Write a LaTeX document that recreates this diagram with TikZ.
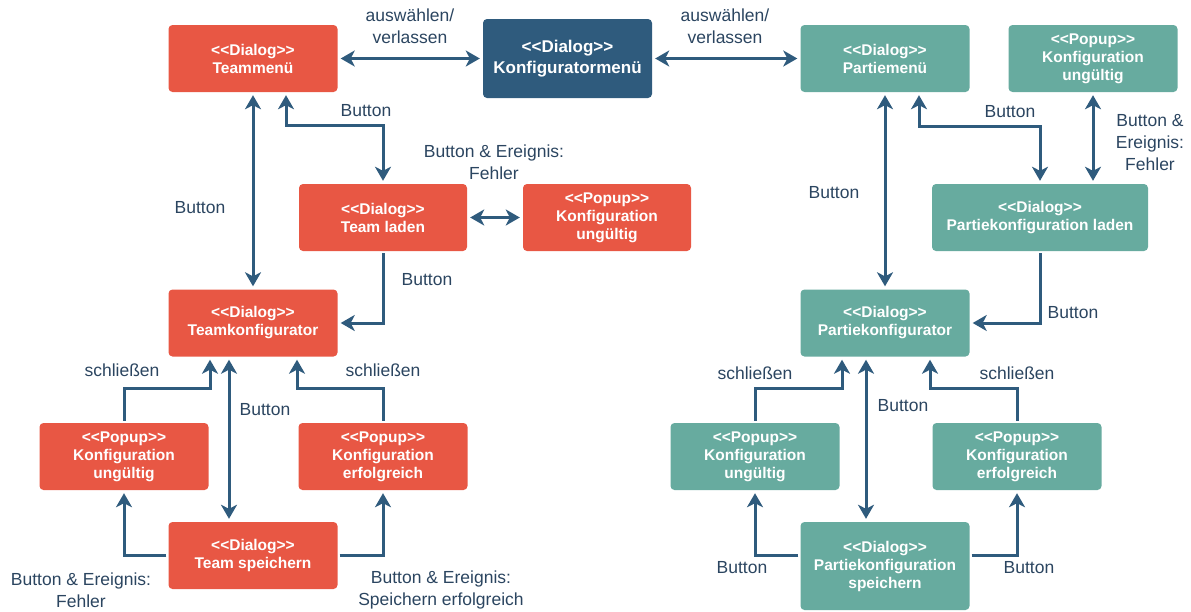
\documentclass[tikz,border=0pt]{standalone}
\usepackage{fontspec}
\setmainfont[Ligatures=TeXOff]{Liberation Sans}
\usetikzlibrary{arrows.meta,calc}
\definecolor{redbox}{HTML}{E85744}
\definecolor{tealbox}{HTML}{67AB9F}
\definecolor{navy}{HTML}{2F5B7D}
\definecolor{labeltxt}{HTML}{2B4560}
\tikzset{
  box/.style={rectangle, rounded corners=4pt, draw=none, minimum width=169pt, minimum height=67pt,
    inner sep=0pt, align=center, text=white, font=\fontsize{15.5}{18}\selectfont\bfseries},
  redb/.style={box, fill=redbox},
  tealb/.style={box, fill=tealbox},
  navyb/.style={box, fill=navy, minimum height=79pt, font=\fontsize{17}{21}\selectfont\bfseries},
  lbl/.style={align=center, text=labeltxt, inner sep=0pt, font=\fontsize{17.5}{22}\selectfont},
  arr/.style={draw=navy, line width=3pt, -{Stealth[length=14pt,width=16pt,inset=4pt]}, shorten >=3pt, shorten <=2pt},
  dbl/.style={draw=navy, line width=3pt, {Stealth[length=14pt,width=16pt,inset=4pt]}-{Stealth[length=14pt,width=16pt,inset=4pt]}, shorten >=3pt, shorten <=3pt},
}
\begin{document}
\begin{tikzpicture}[x=1pt,y=-1pt]
\useasboundingbox (0,0) rectangle (1191,611);
% left nodes
\node[redb] (tm) at (253,58.5) {<<Dialog>>\\Teammenü};
\node[navyb] (km) at (567.5,58.5) {<<Dialog>>\\Konfiguratormenü};
\node[redb, minimum width=168pt] (tl) at (383,217.5) {<<Dialog>>\\Team laden};
\node[redb, minimum width=168pt] (pu1) at (607,217.5) {<<Popup>>\\Konfiguration\\ungültig};
\node[redb] (tk) at (253,323) {<<Dialog>>\\Teamkonfigurator};
\node[redb] (pu2) at (124,456.5) {<<Popup>>\\Konfiguration\\ungültig};
\node[redb] (pe) at (383,456.5) {<<Popup>>\\Konfiguration\\erfolgreich};
\node[redb] (ts) at (253,555.5) {<<Dialog>>\\Team speichern};
% right nodes
\node[tealb] (pm) at (885,58.5) {<<Dialog>>\\Partiemenü};
\node[tealb] (pu3) at (1093,58.5) {<<Popup>>\\Konfiguration\\ungültig};
\node[tealb, minimum width=216pt] (pl) at (1040,217.5) {<<Dialog>>\\Partiekonfiguration laden};
\node[tealb] (pk) at (885,323) {<<Dialog>>\\Partiekonfigurator};
\node[tealb] (pu4) at (755,456.5) {<<Popup>>\\Konfiguration\\ungültig};
\node[tealb] (pe2) at (1017,456.5) {<<Popup>>\\Konfiguration\\erfolgreich};
\node[tealb, minimum height=88pt] (ps) at (885,566) {<<Dialog>>\\Partiekonfiguration\\speichern};
% left connectors
\draw[dbl] (tm.east) -- (km.west);
\draw[dbl] (km.east) -- (pm.west);
\draw[dbl] (tm.south) -- (tk.north);
\draw[dbl] ($(tm.south)+(33,0)$) |- ($(tl.north)+(0,-58)$) -- (tl.north);
\draw[dbl] (tl.east) -- (pu1.west);
\draw[arr] (tl.south) |- (tk.east);
\draw[arr] (pu2.north) |- ($(tk.south)+(-43,32)$) -- ($(tk.south)+(-43,0)$);
\draw[arr] (pe.north) |- ($(tk.south)+(44,32)$) -- ($(tk.south)+(44,0)$);
\draw[dbl] ($(tk.south)+(-24,0)$) -- ($(ts.north)+(-24,0)$);
\draw[arr] (ts.west) -| (pu2.south);
\draw[arr] (ts.east) -| (pe.south);
% right connectors
\draw[dbl] (pm.south) -- (pk.north);
\draw[dbl] ($(pm.south)+(34,0)$) |- ($(pl.north)+(0,-57)$) -- (pl.north);
\draw[dbl] (pu3.south) -- (pu3.south |- pl.north);
\draw[arr] (pl.south) |- (pk.east);
\draw[arr] (pu4.north) |- ($(pk.south)+(-43,32)$) -- ($(pk.south)+(-43,0)$);
\draw[arr] (pe2.north) |- ($(pk.south)+(45,32)$) -- ($(pk.south)+(45,0)$);
\draw[dbl] ($(pk.south)+(-19,0)$) -- ($(ps.north)+(-19,0)$);
\draw[arr] ($(ps.west)+(0,-11)$) -| (pu4.south);
\draw[arr] ($(ps.east)+(0,-11)$) -| (pe2.south);
% labels left
\node[lbl] (l1) at (410,26) {auswählen/\\verlassen};
\node[lbl] (l2) at (725,26) {auswählen/\\verlassen};
\node[lbl] (l3) at (366,111) {Button};
\node[lbl] (l4) at (494,162) {Button \& Ereignis:\\Fehler};
\node[lbl] (l5) at (200,208) {Button};
\node[lbl] (l6) at (427,280) {Button};
\node[lbl] (l7) at (122,370) {schließen};
\node[lbl] (l8) at (383,370) {schließen};
\node[lbl] (l9) at (265,410) {Button};
\node[lbl] (l10) at (81,590) {Button \& Ereignis:\\Fehler};
\node[lbl] (l11) at (441,590) {Button \& Ereignis:\\Speichern erfolgreich};
% labels right
\node[lbl] (r1) at (1010,112) {Button};
\node[lbl] (r2) at (1150,143) {Button \&\\Ereignis:\\Fehler};
\node[lbl] (r3) at (834,193) {Button};
\node[lbl] (r4) at (1073,313) {Button};
\node[lbl] (r5) at (755,373) {schließen};
\node[lbl] (r6) at (1017,373) {schließen};
\node[lbl] (r7) at (903,406) {Button};
\node[lbl] (r8) at (742,568) {Button};
\node[lbl] (r9) at (1029,568) {Button};
\end{tikzpicture}
\end{document}
